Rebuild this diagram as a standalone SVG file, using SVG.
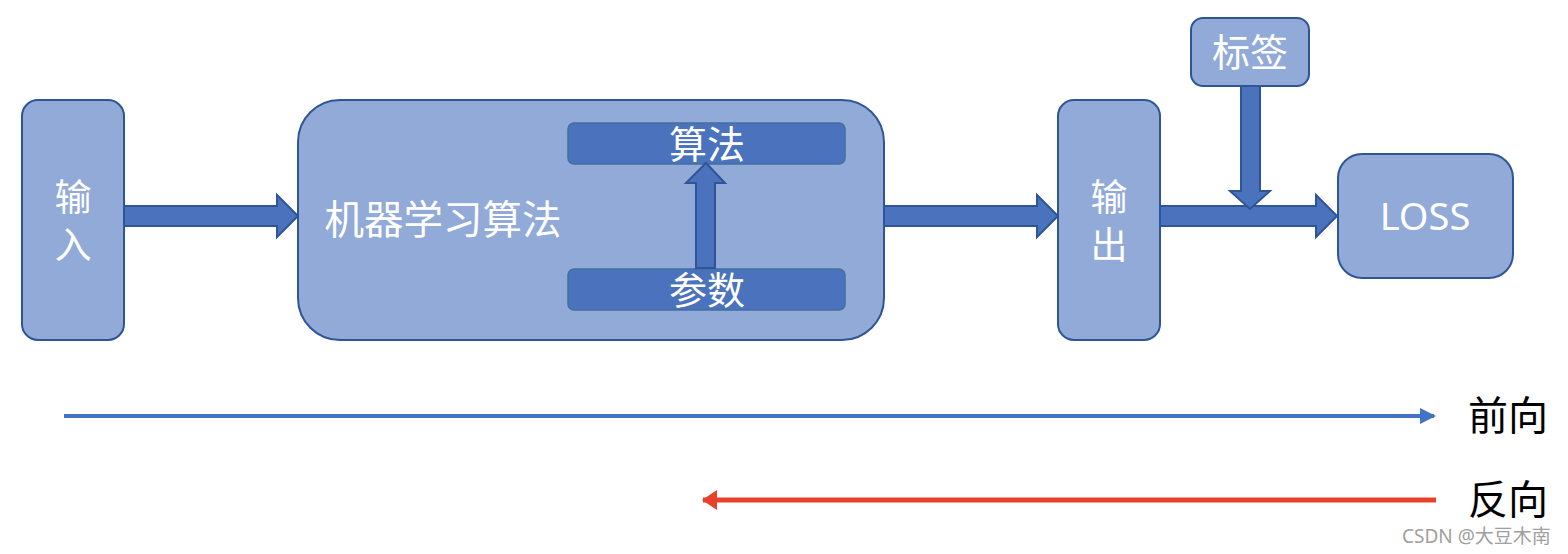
<svg xmlns="http://www.w3.org/2000/svg" width="1568" height="554" viewBox="0 0 1568 554">
<style>
.node{fill:#92aad8;stroke:#2f5597;stroke-width:2}
.inner{fill:#4a72bd;stroke:#41719c;stroke-width:1.5}
.blk{fill:#4a72bd;stroke:#2f5597;stroke-width:2}
.t{font-family:"Noto Sans CJK SC","Noto Sans",sans-serif;fill:#fff;text-anchor:middle}
.k{font-family:"Noto Sans CJK SC",sans-serif;fill:#000;font-size:40px}
</style>
<defs>
<marker id="mb" markerWidth="4" markerHeight="4" refX="3.5" refY="2" orient="auto" markerUnits="strokeWidth"><path d="M0,0 L4,2 L0,4 Z" fill="#4472c4"/></marker>
<marker id="mr" markerWidth="3" markerHeight="4" refX="2.8" refY="2" orient="auto" markerUnits="strokeWidth"><path d="M0,0 L3,2 L0,4 Z" fill="#e8402a"/></marker>
</defs>
<g id="input">
<rect class="node" x="22" y="100" width="102" height="240" rx="16"/>
<text class="t" x="73" y="211" font-size="37">输</text>
<text class="t" x="73" y="259" font-size="37">入</text>
</g>
<g id="ml">
<rect class="node" x="298" y="100" width="586" height="240" rx="42"/>
<text class="t" x="443" y="234" font-size="39.5">机器学习算法</text>
</g>
<g id="algo">
<rect class="inner" x="568" y="123" width="277" height="41" rx="6"/>
<text class="t" x="707" y="158" font-size="38">算法</text>
</g>
<g id="params">
<rect class="inner" x="568" y="269" width="277" height="41" rx="6"/>
<text class="t" x="707" y="304" font-size="38">参数</text>
</g>
<g id="output">
<rect class="node" x="1058" y="100" width="102" height="240" rx="16"/>
<text class="t" x="1109" y="211" font-size="37">输</text>
<text class="t" x="1109" y="259" font-size="37">出</text>
</g>
<g id="label">
<rect class="node" x="1191" y="18" width="118" height="68" rx="12"/>
<text class="t" x="1250" y="66" font-size="38">标签</text>
</g>
<g id="loss">
<rect class="node" x="1338" y="154" width="175" height="124" rx="24"/>
<text class="t" x="1425" y="230" font-size="38" style="font-family:'Noto Sans',sans-serif">LOSS</text>
</g>
<g id="connectors">
<path class="blk" d="M124,206 L277,206 L277,195 L298,216 L277,237 L277,226 L124,226 Z"/>
<path class="blk" d="M884,206 L1037,206 L1037,195 L1058,216 L1037,237 L1037,226 L884,226 Z"/>
<path class="blk" d="M1160,206 L1316,206 L1316,195 L1337,216 L1316,237 L1316,226 L1160,226 Z"/>
<path class="blk" d="M696,268 L696,183 L686,183 L706,163 L725,183 L715,183 L715,268 Z"/>
<path class="blk" d="M1241,86 L1260,86 L1260,191 L1270,191 L1250,209 L1230,191 L1241,191 Z"/>
<line x1="64" y1="416" x2="1434" y2="416" stroke="#4472c4" stroke-width="4" marker-end="url(#mb)"/>
<line x1="1436" y1="500" x2="703" y2="500" stroke="#e8402a" stroke-width="5" marker-end="url(#mr)"/>
</g>
<text class="k" x="1468" y="430">前向</text>
<text class="k" x="1468" y="514">反向</text>
<text x="1402" y="543" font-family="'Noto Sans','Noto Sans CJK SC',sans-serif" font-size="19" fill="#a0a0a0">CSDN @大豆木南</text>
</svg>
